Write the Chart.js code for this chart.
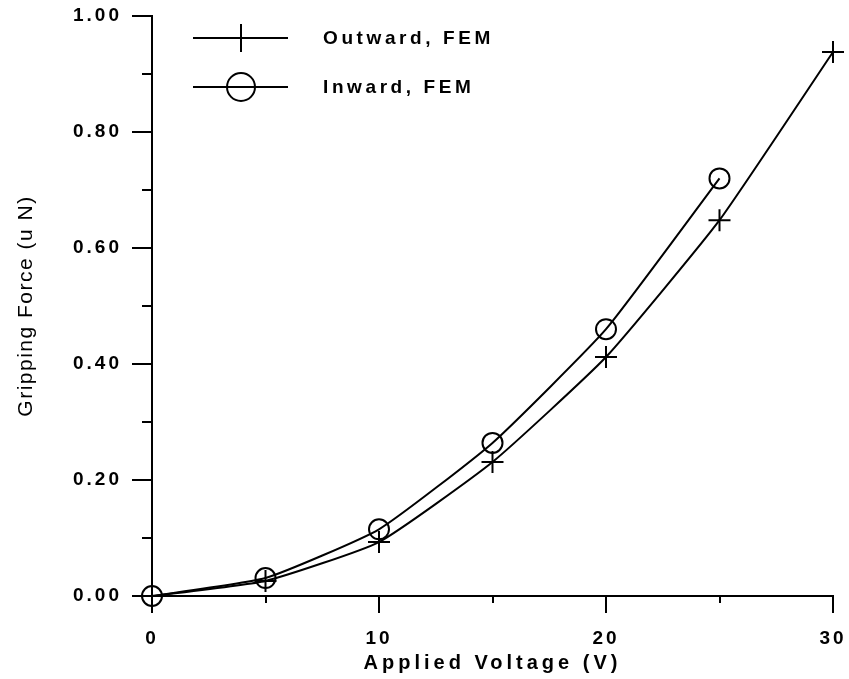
<!DOCTYPE html>
<html>
<head>
<meta charset="utf-8">
<script src="https://cdn.jsdelivr.net/npm/chart.js@4"></script>
<style>
  body { margin: 0; background: #fff; }
</style>
</head>
<body>
<canvas id="grafico" width="849" height="679"></canvas>
<script>
const voltage = [0, 5, 10, 15, 20, 25, 30];
const outwardForce = [0, 0.026, 0.093, 0.231, 0.412, 0.648, 0.938];
const inwardForce = [0, 0.031, 0.115, 0.264, 0.46, 0.72];
const seriesNames = ["Outward, FEM", "Inward, FEM"];

const xMajorTicks = [0, 10, 20, 30];
const xMinorTicks = [5, 15, 25];
const yMajorTicks = [0, 0.2, 0.4, 0.6, 0.8, 1.0];
const yMinorTicks = [0.1, 0.3, 0.5, 0.7, 0.9];

const fontFamily = "'Liberation Sans', Arial, sans-serif";
Chart.defaults.font.family = fontFamily;
Chart.defaults.color = "#000";

const toPoints = (ys) => ys.map((y, i) => ({ x: voltage[i], y }));

// wide letter spacing like the original plot, a bit different for each title
const spacing = {
  id: "spacing",
  beforeDraw(chart) {
    const ctx = chart.ctx;
    ctx.letterSpacing = "3px";
    Object.values(chart.scales).forEach(s => {
      if (s._spaced) return;
      const drawTitle = s.drawTitle.bind(s);
      s.drawTitle = () => {
        ctx.letterSpacing = s.axis === "x" ? "4px" : "1.5px";
        drawTitle();
        ctx.letterSpacing = "3px";
      };
      s._spaced = true;
    });
  }
};

// tick marks outside the axes, majors long and minors short
const axisTicks = {
  id: "axisTicks",
  afterDraw(chart) {
    const { ctx, scales: { x, y }, chartArea } = chart;
    ctx.save();
    ctx.strokeStyle = "#000";
    ctx.lineWidth = 2;
    ctx.beginPath();
    yMajorTicks.forEach(v => {
      const py = Math.round(y.getPixelForValue(v));
      ctx.moveTo(chartArea.left - 20, py);
      ctx.lineTo(chartArea.left, py);
    });
    yMinorTicks.forEach(v => {
      const py = Math.round(y.getPixelForValue(v));
      ctx.moveTo(chartArea.left - 10, py);
      ctx.lineTo(chartArea.left, py);
    });
    xMajorTicks.forEach(v => {
      const px = Math.round(x.getPixelForValue(v));
      ctx.moveTo(px, chartArea.bottom);
      ctx.lineTo(px, chartArea.bottom + 17);
    });
    xMinorTicks.forEach(v => {
      const px = Math.round(x.getPixelForValue(v));
      ctx.moveTo(px, chartArea.bottom);
      ctx.lineTo(px, chartArea.bottom + 7);
    });
    ctx.stroke();
    ctx.restore();
  }
};

// legend inside the plot: line sample with marker in the middle
const insideLegend = {
  id: "insideLegend",
  afterDraw(chart) {
    const ctx = chart.ctx;
    const rows = [38, 87];
    ctx.save();
    chart.data.datasets.forEach((ds, i) => {
      const yy = rows[i];
      ctx.strokeStyle = "#000";
      ctx.lineWidth = 2;
      ctx.beginPath();
      ctx.moveTo(193, yy);
      ctx.lineTo(288, yy);
      ctx.stroke();
      ctx.fillStyle = "rgba(0,0,0,0)";
      Chart.helpers.drawPoint(ctx, {
        pointStyle: ds.pointStyle,
        radius: 14,
        borderWidth: 2
      }, 241, yy);
      ctx.fillStyle = "#000";
      ctx.letterSpacing = "3.6px";
      ctx.font = "bold 19px " + fontFamily;
      ctx.textBaseline = "middle";
      ctx.textAlign = "left";
      ctx.fillText(ds.label, 323, yy + 1);
    });
    ctx.restore();
  }
};

new Chart(document.getElementById("grafico"), {
  type: "line",
  data: {
    datasets: [
      {
        label: seriesNames[0],
        data: toPoints(outwardForce),
        borderColor: "#000",
        borderWidth: 2,
        pointStyle: "cross",
        pointRadius: 11,
        pointBorderWidth: 2,
        pointBorderColor: "#000",
        pointBackgroundColor: "rgba(0,0,0,0)",
        tension: 0.15,
        clip: false,
        fill: false
      },
      {
        label: seriesNames[1],
        data: toPoints(inwardForce),
        borderColor: "#000",
        borderWidth: 2,
        pointStyle: "circle",
        pointRadius: 10,
        pointBorderWidth: 2,
        pointBorderColor: "#000",
        pointBackgroundColor: "rgba(0,0,0,0)",
        tension: 0.15,
        clip: false,
        fill: false
      }
    ]
  },
  options: {
    responsive: false,
    animation: false,
    layout: { autoPadding: false, padding: { left: 0, top: 16, right: 16, bottom: 0 } },
    plugins: {
      legend: { display: false },
      tooltip: { enabled: false }
    },
    scales: {
      x: {
        type: "linear",
        min: 0,
        max: 30,
        grid: { display: false, drawTicks: true, tickLength: 31, tickColor: "rgba(0,0,0,0)" },
        border: { display: true, color: "#000", width: 2 },
        ticks: {
          stepSize: 10,
          padding: 0,
          maxRotation: 0,
          font: { size: 19, weight: "bold" },
          callback: (v) => v.toFixed(0)
        },
        title: {
          display: true,
          text: "Applied Voltage (V)",
          font: { size: 20, weight: "bold", lineHeight: 1.2 },
          padding: { top: 0, bottom: 4 }
        },
        afterFit: (scale) => { scale.height = 83; }
      },
      y: {
        min: 0,
        max: 1,
        grid: { display: false, drawTicks: true, tickLength: 30, tickColor: "rgba(0,0,0,0)" },
        border: { display: true, color: "#000", width: 2 },
        ticks: {
          stepSize: 0.2,
          padding: 0,
          font: { size: 19, weight: "bold" },
          callback: (v) => v.toFixed(2)
        },
        title: {
          display: true,
          text: "Gripping Force (u N)",
          font: { size: 21, lineHeight: 1.2 },
          padding: { top: 14, bottom: 0 }
        },
        afterFit: (scale) => { scale.width = 152; }
      }
    }
  },
  plugins: [spacing, axisTicks, insideLegend]
});
</script>
</body>
</html>
